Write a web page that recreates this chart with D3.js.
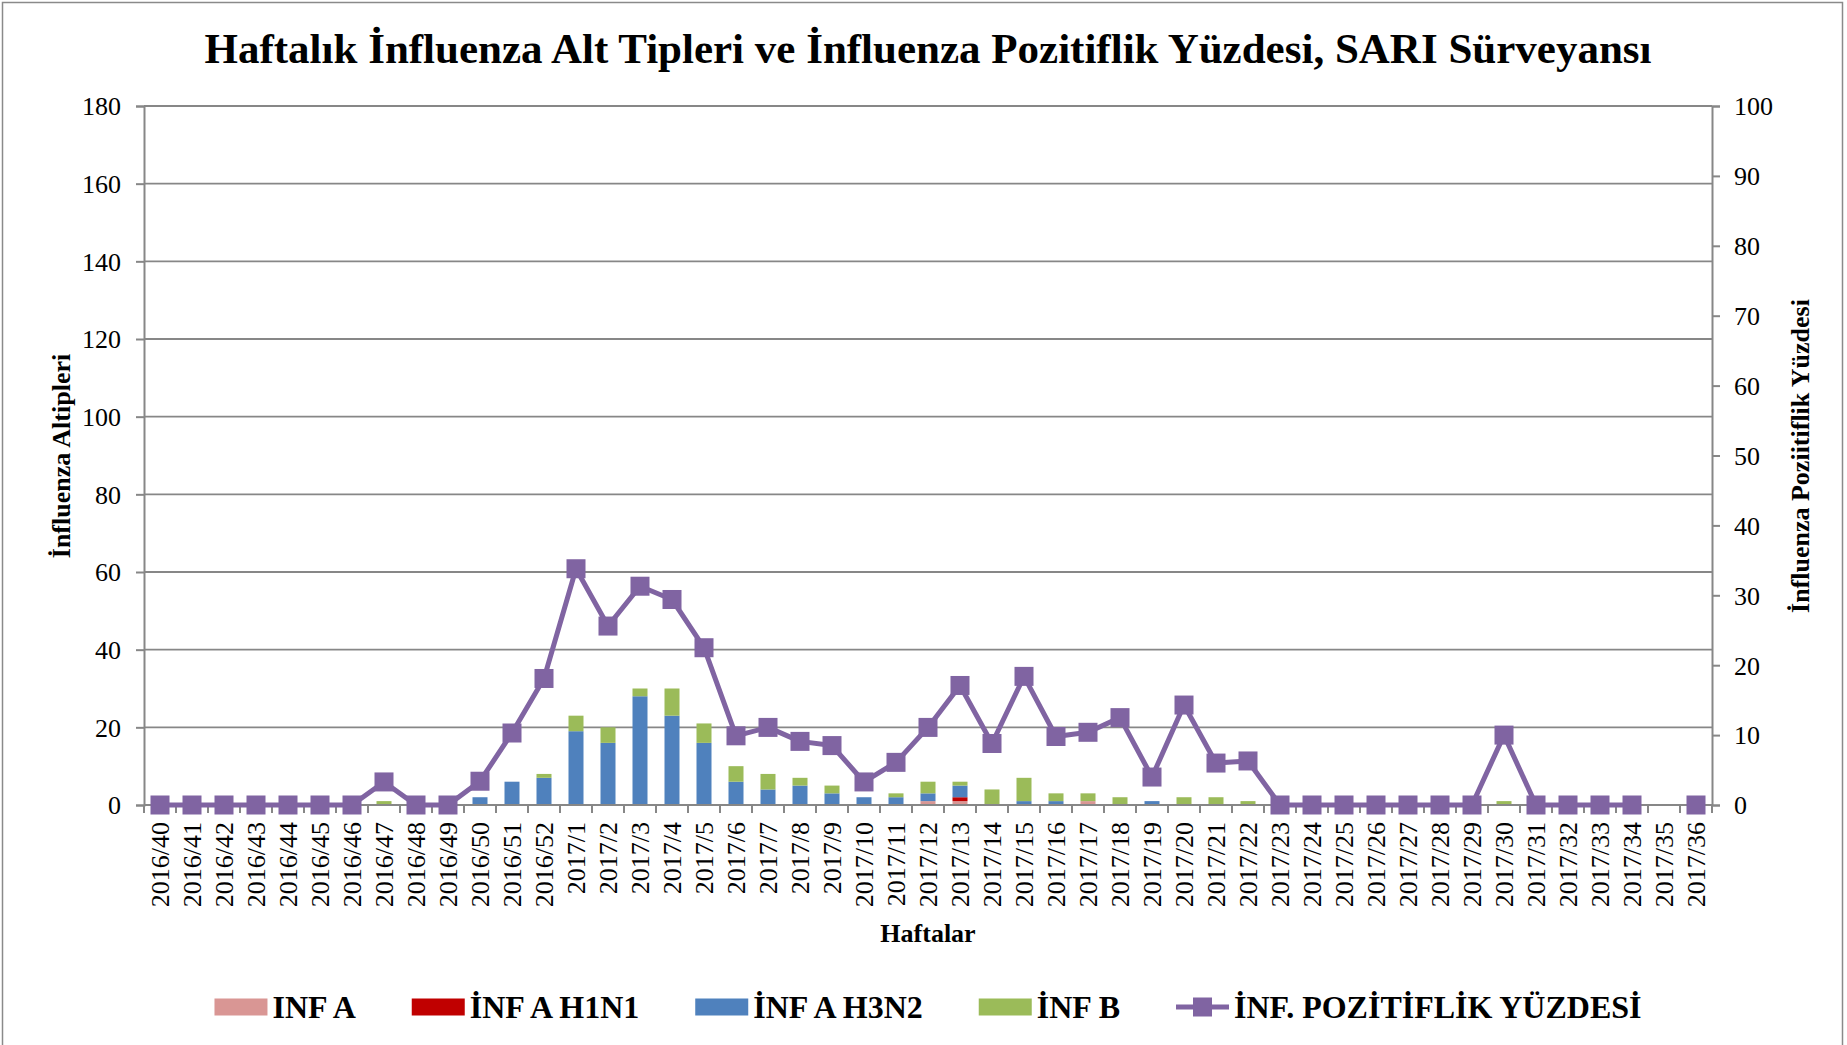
<!DOCTYPE html>
<html>
<head>
<meta charset="utf-8">
<script src="https://cdn.jsdelivr.net/npm/d3@7"></script>
<style>
  html, body { margin: 0; padding: 0; background: #fff; }
  svg { display: block; font-family: "Liberation Serif", "Times New Roman", serif; }
</style>
</head>
<body>
<svg id="chart" width="1847" height="1045"></svg>
<script>
// ---------------- DATA ----------------
const weeks = [
  "2016/40","2016/41","2016/42","2016/43","2016/44","2016/45","2016/46","2016/47","2016/48","2016/49",
  "2016/50","2016/51","2016/52",
  "2017/1","2017/2","2017/3","2017/4","2017/5","2017/6","2017/7","2017/8","2017/9","2017/10",
  "2017/11","2017/12","2017/13","2017/14","2017/15","2017/16","2017/17","2017/18","2017/19","2017/20",
  "2017/21","2017/22","2017/23","2017/24","2017/25","2017/26","2017/27","2017/28","2017/29","2017/30",
  "2017/31","2017/32","2017/33","2017/34","2017/35","2017/36"
];
// INF A (untyped)
const infA = [
  0,0,0,0,0,0,0,0,0,0, 0,0,0,
  0,0,0,0,0,0,0,0,0,0, 0,1,1,0,0,0,1,0,0,0, 0,0,0,0,0,0,0,0,0,0, 0,0,0,0,0,0
];
// INF A H1N1
const infAH1N1 = [
  0,0,0,0,0,0,0,0,0,0, 0,0,0,
  0,0,0,0,0,0,0,0,0,0, 0,0,1,0,0,0,0,0,0,0, 0,0,0,0,0,0,0,0,0,0, 0,0,0,0,0,0
];
// INF A H3N2
const infAH3N2 = [
  0,0,0,0,0,0,0,0,0,0, 2,6,7,
  19,16,28,23,16,6,4,5,3,2, 2,2,3,0,1,1,0,0,1,0, 0,0,0,0,0,0,0,0,0,0, 0,0,0,0,0,0
];
// INF B
const infB = [
  0,0,0,0,0,0,0,1,0,0, 0,0,1,
  4,4,2,7,5,4,4,2,2,0, 1,3,1,4,6,2,2,2,0,2, 2,1,0,0,0,0,0,0,0,1, 0,0,0,0,0,0
];
// Influenza positivity percentage (null = no data)
const positivity = [
  0,0,0,0,0,0,0,3.3,0,0, 3.4,10.3,18.1,
  33.8,25.6,31.3,29.4,22.5,9.9,11.1,9.1,8.5,3.3,
  6.1,11.1,17.1,8.8,18.4,9.8,10.4,12.5,4.0,14.3,
  6.0,6.3,0,0,0,0,0,0,0,10.0,
  0,0,0,0,null,0
];
const leftTicks = [0,20,40,60,80,100,120,140,160,180];
const rightTicks = [0,10,20,30,40,50,60,70,80,90,100];

const seriesNames = ["INF A", "İNF A H1N1", "İNF A H3N2", "İNF B"];
const lineName = "İNF. POZİTİFLİK YÜZDESİ";
const colors = ["#D99694", "#C00000", "#4F81BD", "#9BBB59"];
const lineColor = "#8064A2";

// ---------------- LAYOUT ----------------
const W = 1847, H = 1045;
const plot = { left: 144, right: 1712, top: 106, bottom: 805 };
const gridColor = "#878787";

const svg = d3.select("#chart");

// outer frame
svg.append("rect")
  .attr("x", 2.5).attr("y", 2.5)
  .attr("width", 1840).attr("height", 1060)
  .attr("fill", "none").attr("stroke", "#8a8a8a").attr("stroke-width", 1.5);

// scales
const xCat = d3.scaleBand().domain(weeks).range([plot.left, plot.right]).padding(0);
const pad = 17 / 32;
const xBar = d3.scaleBand().domain(weeks).range([plot.left, plot.right])
  .paddingInner(pad).paddingOuter(pad / 2);
const yL = d3.scaleLinear().domain([0, 180]).range([plot.bottom, plot.top]);
const yR = d3.scaleLinear().domain([0, 100]).range([plot.bottom, plot.top]);

// gridlines
svg.append("g").selectAll("line")
  .data(leftTicks.filter(d => d > 0))
  .join("line")
  .attr("x1", plot.left).attr("x2", plot.right)
  .attr("y1", d => yL(d)).attr("y2", d => yL(d))
  .attr("stroke", gridColor).attr("stroke-width", 1.8);

// stacked bars
const table = weeks.map((w, i) => ({
  week: w, a: infA[i], h1: infAH1N1[i], h3: infAH3N2[i], b: infB[i]
}));
const keys = ["a", "h1", "h3", "b"];
const stacked = d3.stack().keys(keys)(table);

svg.append("g").selectAll("g")
  .data(stacked)
  .join("g")
  .attr("fill", (d, i) => colors[i])
  .selectAll("rect")
  .data(d => d.filter(s => s[1] - s[0] > 0))
  .join("rect")
  .attr("x", d => xBar(d.data.week))
  .attr("width", xBar.bandwidth())
  .attr("y", d => yL(d[1]))
  .attr("height", d => yL(d[0]) - yL(d[1]));

// left axis
const axL = svg.append("g")
  .attr("transform", `translate(${plot.left},0)`)
  .call(d3.axisLeft(yL).tickValues(leftTicks).tickSize(8).tickPadding(15));
// right axis
const axR = svg.append("g")
  .attr("transform", `translate(${plot.right},0)`)
  .call(d3.axisRight(yR).tickValues(rightTicks).tickSize(8).tickPadding(14));
// bottom axis (boundary ticks)
const axB = svg.append("g");
axB.append("line")
  .attr("x1", plot.left).attr("x2", plot.right)
  .attr("y1", plot.bottom).attr("y2", plot.bottom)
  .attr("stroke", gridColor).attr("stroke-width", 2);
const boundaries = weeks.map(w => xCat(w)).concat([plot.right]);
axB.selectAll("line.tk")
  .data(boundaries)
  .join("line").attr("class", "tk")
  .attr("x1", d => d).attr("x2", d => d)
  .attr("y1", plot.bottom).attr("y2", plot.bottom + 8)
  .attr("stroke", gridColor).attr("stroke-width", 2);
axB.selectAll("text")
  .data(weeks)
  .join("text")
  .attr("transform", d => `translate(${xCat(d) + xCat.bandwidth() / 2},${plot.bottom + 17}) rotate(-90)`)
  .attr("text-anchor", "end")
  .attr("dy", "0.34em")
  .attr("font-size", 26)
  .attr("fill", "#000")
  .text(d => d);

[axL, axR].forEach(ax => {
  ax.selectAll("path.domain").attr("stroke", gridColor).attr("stroke-width", 2);
  ax.selectAll(".tick line").attr("stroke", gridColor).attr("stroke-width", 2);
  ax.selectAll(".tick text")
    .attr("font-size", 26)
    .attr("font-family", "Liberation Serif, serif")
    .attr("fill", "#000")
    .attr("dy", "0.34em");
});

// positivity line
const line = d3.line()
  .defined(d => d != null)
  .x((d, i) => xCat(weeks[i]) + xCat.bandwidth() / 2)
  .y(d => yR(d));
svg.append("path")
  .datum(positivity)
  .attr("d", line)
  .attr("fill", "none")
  .attr("stroke", lineColor)
  .attr("stroke-width", 5)
  .attr("stroke-linejoin", "round");
const ms = 19;
svg.append("g").selectAll("rect")
  .data(positivity.map((v, i) => ({ v, w: weeks[i] })).filter(d => d.v != null))
  .join("rect")
  .attr("x", d => xCat(d.w) + xCat.bandwidth() / 2 - ms / 2)
  .attr("y", d => yR(d.v) - ms / 2)
  .attr("width", ms).attr("height", ms)
  .attr("fill", lineColor);

// titles
svg.append("text")
  .attr("x", (plot.left + plot.right) / 2).attr("y", 63)
  .attr("text-anchor", "middle")
  .attr("font-size", 43).attr("font-weight", "bold")
  .text("Haftalık İnfluenza Alt Tipleri ve İnfluenza Pozitiflik Yüzdesi, SARI Sürveyansı");

svg.append("text")
  .attr("x", (plot.left + plot.right) / 2).attr("y", 942)
  .attr("text-anchor", "middle")
  .attr("font-size", 26).attr("font-weight", "bold")
  .text("Haftalar");

svg.append("text")
  .attr("transform", `translate(61,456) rotate(-90)`)
  .attr("text-anchor", "middle").attr("dy", "0.34em")
  .attr("font-size", 26).attr("font-weight", "bold")
  .text("İnfluenza Altipleri");

svg.append("text")
  .attr("transform", `translate(1800,456) rotate(-90)`)
  .attr("text-anchor", "middle").attr("dy", "0.34em")
  .attr("font-size", 26).attr("font-weight", "bold")
  .text("İnfluenza Poziitiflik Yüzdesi");

// legend
const legY = 1007;
const sw = 53, sh = 17, gapT = 5, gapItem = 56;
const leg = svg.append("g");
const items = seriesNames.map((n, i) => ({ name: n, color: colors[i], type: "bar" }))
  .concat([{ name: lineName, color: lineColor, type: "line" }]);
const itemG = leg.selectAll("g").data(items).join("g");
itemG.append("text")
  .attr("x", sw + gapT).attr("y", legY).attr("dy", "0.33em")
  .attr("font-size", 32).attr("font-weight", "bold")
  .text(d => d.name);
itemG.each(function(d) {
  const g = d3.select(this);
  if (d.type === "bar") {
    g.append("rect").attr("x", 0).attr("y", legY - sh / 2)
      .attr("width", sw).attr("height", sh).attr("fill", d.color);
  } else {
    g.append("line").attr("x1", 0).attr("x2", sw).attr("y1", legY).attr("y2", legY)
      .attr("stroke", d.color).attr("stroke-width", 5);
    g.append("rect").attr("x", sw / 2 - ms / 2).attr("y", legY - ms / 2)
      .attr("width", ms).attr("height", ms).attr("fill", d.color);
  }
});
let widths = [];
itemG.each(function() { widths.push(sw + gapT + this.querySelector("text").getComputedTextLength()); });
const total = d3.sum(widths) + gapItem * (widths.length - 1);
let cx = (plot.left + plot.right) / 2 - total / 2;
itemG.attr("transform", (d, i) => {
  const x = cx; cx += widths[i] + gapItem; return `translate(${x},0)`;
});
</script>
</body>
</html>
